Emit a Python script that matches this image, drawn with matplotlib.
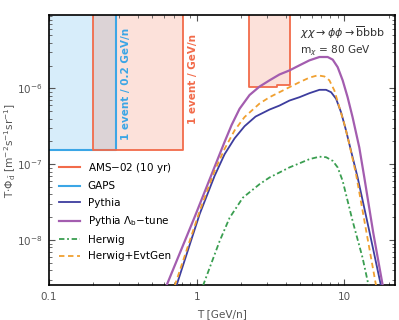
import numpy as np
import matplotlib
matplotlib.use("Agg")
import matplotlib.pyplot as plt

# detector sensitivity regions
gaps_T = [0.1, 0.284]
gaps_flux = 1.53e-7
ams_low_T = [0.2, 0.81]
ams_low_flux = 1.53e-7
ams_high_T = [2.25, 3.52, 3.52, 4.3]
ams_high_flux = [1.06e-6, 1.06e-6, 1.1e-6, 1.1e-6]

# antideuteron flux curves
T_lambda = [0.624, 0.969, 1.323, 1.546, 1.724, 1.952, 2.281, 2.666, 3.113, 3.637, 4.249, 4.966,
            5.803, 6.78, 7.71, 8.34, 9.01, 9.74, 10.52, 11.37, 12.62, 13.65, 15.70, 18.2]
F_lambda = [2.5e-9, 2.02e-8, 9.27e-8, 1.98e-7, 3.3e-7, 5.4e-7, 8.2e-7, 1.06e-6, 1.28e-6,
            1.53e-6, 1.73e-6, 2.02e-6, 2.35e-6, 2.60e-6, 2.60e-6, 2.40e-6, 1.91e-6, 1.28e-6,
            7.67e-7, 4.17e-7, 1.67e-7, 6.7e-8, 1.24e-8, 2.5e-9]

T_pythia = [0.729, 1.048, 1.323, 1.546, 1.806, 2.110, 2.504, 3.113, 3.637, 4.249, 4.966, 5.803,
            6.78, 7.52, 8.13, 8.79, 9.50, 10.27, 11.09, 12.30, 14.75, 17.7]
F_pythia = [2.5e-9, 2.21e-8, 7.05e-8, 1.36e-7, 2.2e-7, 3.18e-7, 4.26e-7, 5.27e-7, 5.95e-7,
            6.93e-7, 7.67e-7, 8.67e-7, 9.6e-7, 9.6e-7, 8.93e-7, 7.31e-7, 4.85e-7, 2.78e-7,
            1.51e-7, 6.7e-8, 1.32e-8, 2.5e-9]

T_evtgen = [0.710, 1.048, 1.323, 1.546, 1.806, 2.110, 2.666, 3.113, 3.637, 4.249, 4.966, 5.803,
            6.60, 7.33, 7.92, 8.56, 9.25, 10.0, 10.8, 12.0, 13.87, 16.4]
F_evtgen = [2.5e-9, 2.42e-8, 8.2e-8, 1.6e-7, 2.8e-7, 4.2e-7, 6.33e-7, 7.67e-7, 8.93e-7,
            1.04e-6, 1.21e-6, 1.39e-6, 1.49e-6, 1.44e-6, 1.28e-6, 9.4e-7, 5.65e-7, 3.4e-7,
            1.85e-7, 7.4e-8, 1.53e-8, 2.5e-9]

T_herwig = [1.103, 1.430, 1.671, 2.055, 2.666, 3.113, 3.637, 4.249, 4.966, 5.803, 6.78, 7.52,
            8.34, 9.01, 9.74, 11.37, 13.29, 14.6]
F_herwig = [2.5e-9, 9.7e-9, 1.97e-8, 3.63e-8, 5.47e-8, 6.7e-8, 7.8e-8, 9.1e-8, 1.03e-7, 1.17e-7,
            1.26e-7, 1.24e-7, 1.11e-7, 9.1e-8, 6.04e-8, 1.79e-8, 5.83e-9, 2.5e-9]

c_ams = '#f26b4a'
c_gaps = '#3ba6e6'
c_pythia = '#3d3d9e'
c_lambda = '#a35daf'
c_herwig = '#3a9e50'
c_evtgen = '#f0a030'

fig = plt.figure(figsize=(3.99, 3.2), dpi=100)
ax = fig.add_axes([0.1228, 0.109, 0.867, 0.844])
ax.set_xscale('log')
ax.set_yscale('log')
ax.set_xlim(0.1, 22)
ax.set_ylim(2.55e-9, 9.3e-6)
top = 1e-4

# boxes
ax.fill_between(gaps_T, gaps_flux, top, color=c_gaps, alpha=0.2, lw=0)
ax.plot([gaps_T[0], gaps_T[1], gaps_T[1]], [gaps_flux, gaps_flux, top], color=c_gaps, lw=1.5)
ax.fill_between(ams_low_T, ams_low_flux, top, color=c_ams, alpha=0.2, lw=0)
ax.plot([ams_low_T[0], ams_low_T[0], ams_low_T[1], ams_low_T[1]],
        [top, ams_low_flux, ams_low_flux, top], color=c_ams, lw=1.3)
ax.fill_between(ams_high_T, ams_high_flux, top, color=c_ams, alpha=0.2, lw=0)
ax.plot([ams_high_T[0]] + ams_high_T + [ams_high_T[-1]],
        [top] + ams_high_flux + [top], color=c_ams, lw=1.3)

# curves
kw = dict(zorder=3, solid_joinstyle='round', dash_joinstyle='round')
ax.plot(T_pythia, F_pythia, color=c_pythia, lw=1.3, label='Pythia', **kw)
ax.plot(T_lambda, F_lambda, color=c_lambda, lw=1.6, label=r'Pythia $\Lambda_\mathrm{b}$$-$tune', **kw)
ax.plot(T_herwig, F_herwig, color=c_herwig, lw=1.3, ls=(0, (3, 1.5, 1, 1.5)), label='Herwig', **kw)
ax.plot(T_evtgen, F_evtgen, color=c_evtgen, lw=1.3, ls=(0, (3, 2)), label='Herwig+EvtGen', **kw)

# legend handles for detectors
ax.plot([], [], color=c_ams, lw=1.5, label='AMS$-$02 (10 yr)')
ax.plot([], [], color=c_gaps, lw=1.5, label='GAPS')
handles, labels = ax.get_legend_handles_labels()
order = [4, 5, 0, 1, 2, 3]
ax.legend([handles[i] for i in order], [labels[i] for i in order], loc='lower left',
          bbox_to_anchor=(0.0, 0.05), frameon=False, fontsize=7.5, handlelength=2.0,
          handletextpad=0.7, labelspacing=0.62, borderaxespad=0.6)

# rotated labels
ax.text(0.307, 1.16e-6, '1 event / 0.2 GeV/n', rotation=90, color=c_gaps, fontsize=7.5,
        fontweight='bold', ha='left', va='center')
ax.text(0.87, 1.32e-6, '1 event / GeV/n', rotation=90, color=c_ams, fontsize=7.5,
        fontweight='bold', ha='left', va='center')

ax.text(0.725, 0.967, r'$\chi\chi \rightarrow \phi\phi \rightarrow \overline{\mathrm{b}}\mathrm{bbb}$',
        transform=ax.transAxes, fontsize=8, color='#333333', va='top')
ax.text(0.725, 0.895, r'm$_\chi$ = 80 GeV', transform=ax.transAxes, fontsize=7.6,
        color='#333333', va='top')

ax.set_xlabel('T [GeV/n]', fontsize=7.6, color='#555555', labelpad=5)
ax.set_ylabel(r'T$\cdot\Phi_{\bar{\mathrm{d}}}$ [m$^{-2}$s$^{-1}$sr$^{-1}$]', fontsize=7.6,
              color='#555555')
ax.yaxis.set_label_coords(-0.09, 0.5)
ax.set_xticks([0.1, 1, 10])
ax.set_xticklabels(['0.1', '1', '10'])
ax.tick_params(which='both', direction='in', top=True, right=True, labelsize=7.5,
               labelcolor='#555555', color='#555555', pad=5)
ax.tick_params(which='major', length=4)
ax.tick_params(which='minor', length=2)
for s in ax.spines.values():
    s.set_linewidth(1.2)

fig.savefig('out.png', dpi=100)
